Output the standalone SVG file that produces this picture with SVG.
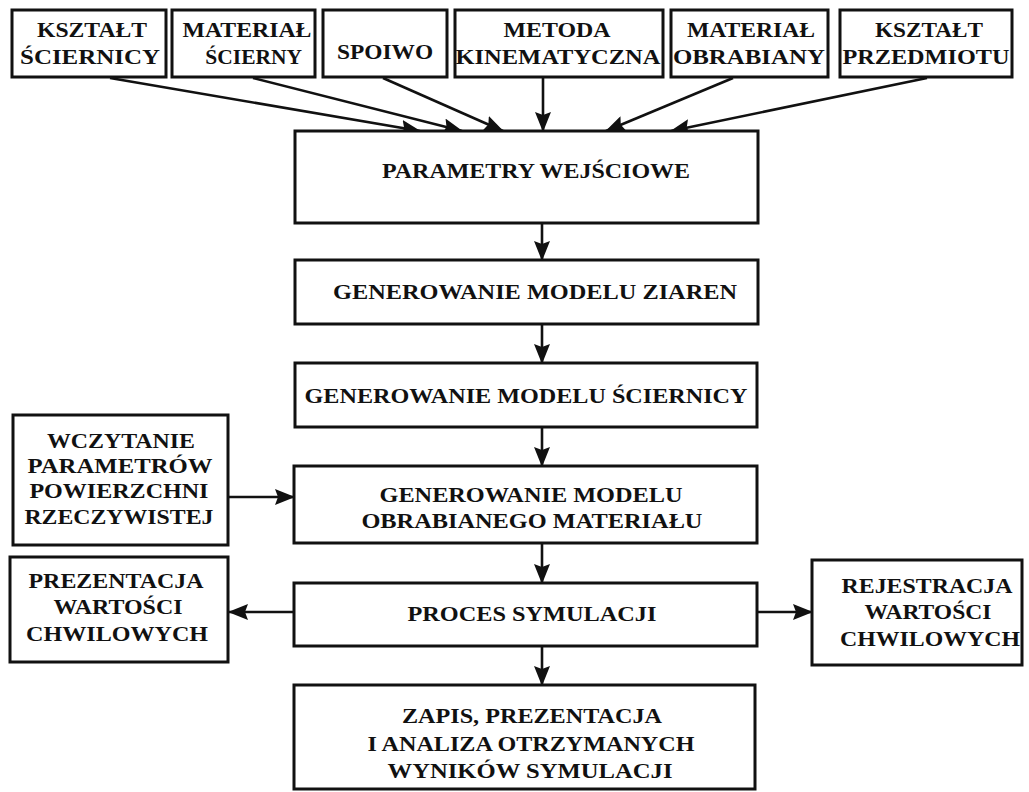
<svg xmlns="http://www.w3.org/2000/svg" width="1029" height="792" viewBox="0 0 1029 792">
<style>
.box{fill:#fff;stroke:#111;stroke-width:3}
.t{font-family:"Liberation Serif","Times New Roman",serif;font-weight:bold;font-size:21px;fill:#111;text-anchor:middle}
.c{stroke:#111;stroke-width:2.6;fill:none;marker-end:url(#ah)}
</style>
<defs>
<marker id="ah" viewBox="0 0 20 16" refX="19" refY="8" markerWidth="20" markerHeight="16" markerUnits="userSpaceOnUse" orient="auto">
<path d="M0,0 L20,8 L0,16 L3,8 Z" fill="#111"/>
</marker>
</defs>
<rect width="1029" height="792" fill="#fff"/>
<g id="connectors">
<line class="c" x1="110" y1="78" x2="420" y2="131"/>
<line class="c" x1="253" y1="78" x2="462" y2="131"/>
<line class="c" x1="383" y1="78" x2="503" y2="131"/>
<line class="c" x1="543" y1="78" x2="543" y2="131"/>
<line class="c" x1="733" y1="78" x2="606" y2="131"/>
<line class="c" x1="927" y1="78" x2="671" y2="131"/>
<line class="c" x1="542" y1="223" x2="542" y2="260"/>
<line class="c" x1="542" y1="324" x2="542" y2="363"/>
<line class="c" x1="542" y1="427" x2="542" y2="466"/>
<line class="c" x1="542" y1="543" x2="542" y2="583"/>
<line class="c" x1="542" y1="646" x2="542" y2="685"/>
<line class="c" x1="229" y1="497" x2="294" y2="497"/>
<line class="c" x1="294" y1="612" x2="229" y2="612"/>
<line class="c" x1="757" y1="612" x2="812" y2="612"/>
</g>
<g id="n-ksztalt-sciernicy">
<rect class="box" x="12" y="10" width="154" height="67"/>
<g transform="scale(1.18,1)">
<text class="t" x="78" y="37" textLength="93.2" lengthAdjust="spacingAndGlyphs">KSZTAŁT</text>
<text class="t" x="76.3" y="64" textLength="118.6" lengthAdjust="spacingAndGlyphs">ŚCIERNICY</text>
</g>
</g>
<g id="n-material-scierny">
<rect class="box" x="172" y="10" width="143" height="67"/>
<g transform="scale(1.18,1)">
<text class="t" x="209.3" y="37" textLength="109.3" lengthAdjust="spacingAndGlyphs">MATERIAŁ</text>
<text class="t" x="215" y="64" textLength="82" lengthAdjust="spacingAndGlyphs">ŚCIERNY</text>
</g>
</g>
<g id="n-spoiwo">
<rect class="box" x="323" y="10" width="124" height="67"/>
<g transform="scale(1.18,1)">
<text class="t" x="326.3" y="59" textLength="81.4" lengthAdjust="spacingAndGlyphs">SPOIWO</text>
</g>
</g>
<g id="n-metoda">
<rect class="box" x="455" y="10" width="208" height="67"/>
<g transform="scale(1.18,1)">
<text class="t" x="472" y="37" textLength="90.7" lengthAdjust="spacingAndGlyphs">METODA</text>
<text class="t" x="472.9" y="64" textLength="173.7" lengthAdjust="spacingAndGlyphs">KINEMATYCZNA</text>
</g>
</g>
<g id="n-material-obrabiany">
<rect class="box" x="671" y="10" width="157" height="67"/>
<g transform="scale(1.18,1)">
<text class="t" x="636.4" y="37" textLength="108.5" lengthAdjust="spacingAndGlyphs">MATERIAŁ</text>
<text class="t" x="634.7" y="64" textLength="128.8" lengthAdjust="spacingAndGlyphs">OBRABIANY</text>
</g>
</g>
<g id="n-ksztalt-przedmiotu">
<rect class="box" x="840" y="10" width="172" height="67"/>
<g transform="scale(1.18,1)">
<text class="t" x="787.3" y="37" textLength="91.5" lengthAdjust="spacingAndGlyphs">KSZTAŁT</text>
<text class="t" x="784.7" y="64" textLength="141.5" lengthAdjust="spacingAndGlyphs">PRZEDMIOTU</text>
</g>
</g>
<g id="n-parametry">
<rect class="box" x="295" y="131" width="463" height="92"/>
<g transform="scale(1.18,1)">
<text class="t" x="454.2" y="178" textLength="261" lengthAdjust="spacingAndGlyphs">PARAMETRY WEJŚCIOWE</text>
</g>
</g>
<g id="n-ziaren">
<rect class="box" x="295" y="260" width="463" height="64"/>
<g transform="scale(1.18,1)">
<text class="t" x="453.4" y="299" textLength="342.4" lengthAdjust="spacingAndGlyphs">GENEROWANIE MODELU ZIAREN</text>
</g>
</g>
<g id="n-sciernicy">
<rect class="box" x="295" y="363" width="462" height="64"/>
<g transform="scale(1.18,1)">
<text class="t" x="445.8" y="403" textLength="375.4" lengthAdjust="spacingAndGlyphs">GENEROWANIE MODELU ŚCIERNICY</text>
</g>
</g>
<g id="n-wczytanie">
<rect class="box" x="13" y="415" width="215" height="130"/>
<g transform="scale(1.18,1)">
<text class="t" x="102.5" y="448" textLength="125.4" lengthAdjust="spacingAndGlyphs">WCZYTANIE</text>
<text class="t" x="101.7" y="473" textLength="156.8" lengthAdjust="spacingAndGlyphs">PARAMETRÓW</text>
<text class="t" x="100.8" y="498" textLength="151.7" lengthAdjust="spacingAndGlyphs">POWIERZCHNI</text>
<text class="t" x="100.8" y="524" textLength="160.2" lengthAdjust="spacingAndGlyphs">RZECZYWISTEJ</text>
</g>
</g>
<g id="n-obrabianego">
<rect class="box" x="294" y="466" width="463" height="77"/>
<g transform="scale(1.18,1)">
<text class="t" x="450" y="502" textLength="256.8" lengthAdjust="spacingAndGlyphs">GENEROWANIE MODELU</text>
<text class="t" x="450.8" y="528" textLength="289" lengthAdjust="spacingAndGlyphs">OBRABIANEGO MATERIAŁU</text>
</g>
</g>
<g id="n-prezentacja">
<rect class="box" x="10" y="557" width="218" height="105"/>
<g transform="scale(1.18,1)">
<text class="t" x="98.3" y="588" textLength="148.3" lengthAdjust="spacingAndGlyphs">PREZENTACJA</text>
<text class="t" x="100" y="614" textLength="109.3" lengthAdjust="spacingAndGlyphs">WARTOŚCI</text>
<text class="t" x="99.2" y="641" textLength="154.2" lengthAdjust="spacingAndGlyphs">CHWILOWYCH</text>
</g>
</g>
<g id="n-proces">
<rect class="box" x="294" y="583" width="463" height="63"/>
<g transform="scale(1.18,1)">
<text class="t" x="450.8" y="621" textLength="211" lengthAdjust="spacingAndGlyphs">PROCES SYMULACJI</text>
</g>
</g>
<g id="n-rejestracja">
<rect class="box" x="812" y="560" width="210" height="105"/>
<g transform="scale(1.18,1)">
<text class="t" x="785.6" y="593" textLength="144.9" lengthAdjust="spacingAndGlyphs">REJESTRACJA</text>
<text class="t" x="786.4" y="619" textLength="107.6" lengthAdjust="spacingAndGlyphs">WARTOŚCI</text>
<text class="t" x="788.1" y="646" textLength="152.5" lengthAdjust="spacingAndGlyphs">CHWILOWYCH</text>
</g>
</g>
<g id="n-zapis">
<rect class="box" x="294" y="685" width="461" height="104"/>
<g transform="scale(1.18,1)">
<text class="t" x="450.8" y="723" textLength="220.3" lengthAdjust="spacingAndGlyphs">ZAPIS, PREZENTACJA</text>
<text class="t" x="450" y="751" textLength="277.1" lengthAdjust="spacingAndGlyphs">I ANALIZA OTRZYMANYCH</text>
<text class="t" x="449.2" y="778" textLength="241.5" lengthAdjust="spacingAndGlyphs">WYNIKÓW SYMULACJI</text>
</g>
</g>
</svg>
